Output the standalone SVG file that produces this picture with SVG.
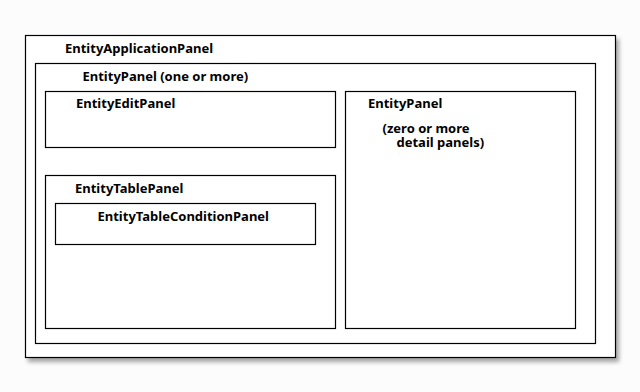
<svg xmlns="http://www.w3.org/2000/svg" width="640" height="392" viewBox="0 0 640 392">
  <defs>
    <filter id="shadow" x="-5%" y="-5%" width="115%" height="115%">
      <feGaussianBlur in="SourceAlpha" stdDeviation="2"/>
      <feOffset dx="3" dy="4" result="b"/>
      <feComponentTransfer><feFuncA type="linear" slope="0.35"/></feComponentTransfer>
      <feMerge><feMergeNode/><feMergeNode in="SourceGraphic"/></feMerge>
    </filter>
    <style>
      .box { fill: #ffffff; stroke: #000000; stroke-width: 1.2; }
      .lbl { font-family: "Noto Sans", "Open Sans", "DejaVu Sans", sans-serif; font-weight: bold; font-size: 13px; fill: #000000; }
    </style>
  </defs>
  <rect x="0" y="0" width="640" height="392" fill="#fcfcfc"/>
  <g id="EntityApplicationPanel">
    <rect class="box" x="25.5" y="35.5" width="590" height="322" filter="url(#shadow)"/>
    <text class="lbl" x="65" y="53">EntityApplicationPanel</text>
  </g>
  <g id="EntityPanelMain">
    <rect class="box" x="35.5" y="63.5" width="560" height="280"/>
    <text class="lbl" x="82.5" y="81">EntityPanel (one or more)</text>
  </g>
  <g id="EntityEditPanel">
    <rect class="box" x="45.5" y="91.5" width="290" height="56"/>
    <text class="lbl" x="76" y="108">EntityEditPanel</text>
  </g>
  <g id="EntityTablePanel">
    <rect class="box" x="45.5" y="175.5" width="290" height="153"/>
    <text class="lbl" x="75" y="192.5">EntityTablePanel</text>
  </g>
  <g id="EntityTableConditionPanel">
    <rect class="box" x="55.5" y="203.5" width="260" height="41"/>
    <text class="lbl" x="97.5" y="221">EntityTableConditionPanel</text>
  </g>
  <g id="EntityPanelDetail">
    <rect class="box" x="345.5" y="91.5" width="230" height="237"/>
    <text class="lbl" x="368" y="108">EntityPanel</text>
    <text class="lbl"><tspan x="382.5" y="132.5">(zero or more</tspan><tspan x="396.5" y="147">detail panels)</tspan></text>
  </g>
  <g id="connectors"/>
</svg>
